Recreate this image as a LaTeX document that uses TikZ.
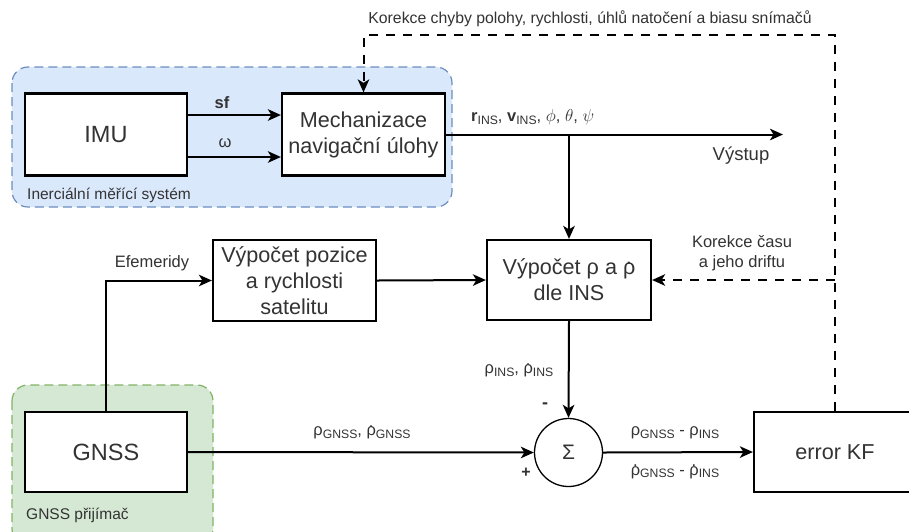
\documentclass[tikz,border=0pt]{standalone}
\usepackage{fontspec}
\usepackage{graphicx}
\setmainfont{Liberation Sans}
\usetikzlibrary{arrows.meta,calc}
\definecolor{txt}{HTML}{333333}
\definecolor{bluefill}{HTML}{DAE8FC}
\definecolor{bluedraw}{HTML}{6C8EBF}
\definecolor{greenfill}{HTML}{D5E8D4}
\definecolor{greendraw}{HTML}{82B366}
\newcommand{\rd}{\ooalign{ρ\cr\hidewidth\raisebox{0.5em}{.}\kern0.02em\hidewidth\cr}}
\newcommand{\sbs}[1]{\raisebox{-0.32ex}{\scalebox{0.74}{#1}}}
\tikzset{
  boxnode/.style={draw=black, line width=2.2pt, fill=white, text=txt, align=center,
    font=\fontsize{21.6}{26}\selectfont, inner sep=0pt},
  lbl/.style={text=txt, font=\fontsize{16.5}{20}\selectfont, inner sep=0pt},
  grplbl/.style={text=txt, font=\fontsize{15.5}{18}\selectfont, inner sep=0pt, anchor=west},
  arr/.style={line width=2pt, -{Stealth[length=13pt,width=11.5pt,inset=3.5pt]}},
  ln/.style={line width=2pt},
  dsh/.style={line width=2pt, dash pattern=on 9pt off 8pt},
  dasharr/.style={dsh, -{Stealth[length=13pt,width=11.5pt,inset=3.5pt]}},
  grp/.style={line width=1.2pt, dash pattern=on 9pt off 5pt, rounded corners=16pt}
}
\begin{document}
\begin{tikzpicture}[x=1pt,y=-1pt]
\clip (0,0) rectangle (909,531);
\fill[white] (0,0) rectangle (909,531);
% groups
\draw[grp, draw=bluedraw, fill=bluefill] (12,67) rectangle (452,207);
\draw[grp, draw=greendraw, fill=greenfill] (12,385) rectangle (213,545);
\node[grplbl] (lins) at (27,195) {Inerciální měřící systém};
\node[grplbl] (lgnss) at (26,515) {GNSS přijímač};
% boxes
\node[boxnode, minimum width=162pt, minimum height=82pt, font=\fontsize{23.5}{28}\selectfont] (imu) at (106,134.5) {IMU};
\node[boxnode, minimum width=163pt, minimum height=82pt] (mech) at (363.5,134.5) {Mechanizace\\navigační úlohy};
\node[boxnode, minimum width=163pt, minimum height=81pt] (poz) at (294.5,280.5) {Výpočet pozice\\a rychlosti\\satelitu};
\node[boxnode, minimum width=164pt, minimum height=80pt] (vyp) at (569,280) {Výpočet ρ a \rd\\dle INS};
\node[boxnode, minimum width=162pt, minimum height=80pt, font=\fontsize{23.5}{28}\selectfont] (gnss) at (106,452) {GNSS};
\node[boxnode, minimum width=162pt, minimum height=80pt] (kf) at (835,452) {error KF};
\node[draw=black, line width=1.3pt, circle, minimum size=68pt, inner sep=0pt, fill=white,
  text=txt, font=\fontsize{21}{24}\selectfont] (sum) at (568.5,452.5) {Σ};
% coordinates
\coordinate (sfy) at (0,115);
\coordinate (omy) at (0,157);
\coordinate (outend) at (783,134.5);
\coordinate (topy) at (0,35);
% IMU -> Mech
\draw[arr] (imu.east |- sfy) -- (mech.west |- sfy);
\draw[arr] (imu.east |- omy) -- (mech.west |- omy);
\node[lbl, font=\bfseries\fontsize{16.5}{20}\selectfont] (lsf) at (222,103) {sf};
\node[lbl] (lom) at (225,143) {ω};
% output
\draw[arr] (mech.east) -- (outend);
\draw[arr] (vyp.north |- mech.east) -- (vyp.north);
\node[lbl, anchor=west] (lout) at (471,117) {\textbf{r}\sbs{INS}, \textbf{v}\sbs{INS}, $\phi$, $\theta$, $\psi$};
\node[lbl, font=\fontsize{18.5}{22}\selectfont] (lvys) at (741,156) {Výstup};
% ephemeris
\draw[arr] (gnss.north) |- (poz.west);
\node[lbl] (lefe) at (152,263) {Efemeridy};
\draw[arr] (poz.east) -- (vyp.west);
% to sum
\draw[arr] (vyp.south) -- (sum.north);
\node[lbl] (lrins) at (519,371) {ρ\sbs{INS}, \rd\sbs{INS}};
\node[lbl, font=\bfseries\fontsize{18}{20}\selectfont] (lminus) at (545,406) {-};
\node[lbl, font=\bfseries\fontsize{16}{20}\selectfont] (lplus) at (526,473) {+};
\draw[arr] (gnss.east) -- (sum.west);
\node[lbl] (lrg) at (362,433) {ρ\sbs{GNSS}, \rd\sbs{GNSS}};
\draw[arr] (sum.east) -- (kf.west);
\node[lbl] (ld1) at (675,433) {ρ\sbs{GNSS} - ρ\sbs{INS}};
\node[lbl] (ld2) at (675,472) {\rd\sbs{GNSS} - \rd\sbs{INS}};
% feedback
\draw[dasharr] (kf.north) -- (kf.north |- topy) -| (mech.north);
\node[lbl, font=\fontsize{15.8}{19}\selectfont] (lkor) at (590,19) {Korekce chyby polohy, rychlosti, úhlů natočení a biasu snímačů};
\draw[dasharr] (kf.north |- vyp.east) -- (vyp.east);
\node[lbl, align=center, font=\fontsize{16.5}{19.5}\selectfont] (lcas) at (742,253) {Korekce času\\a jeho driftu};
\end{tikzpicture}
\end{document}
